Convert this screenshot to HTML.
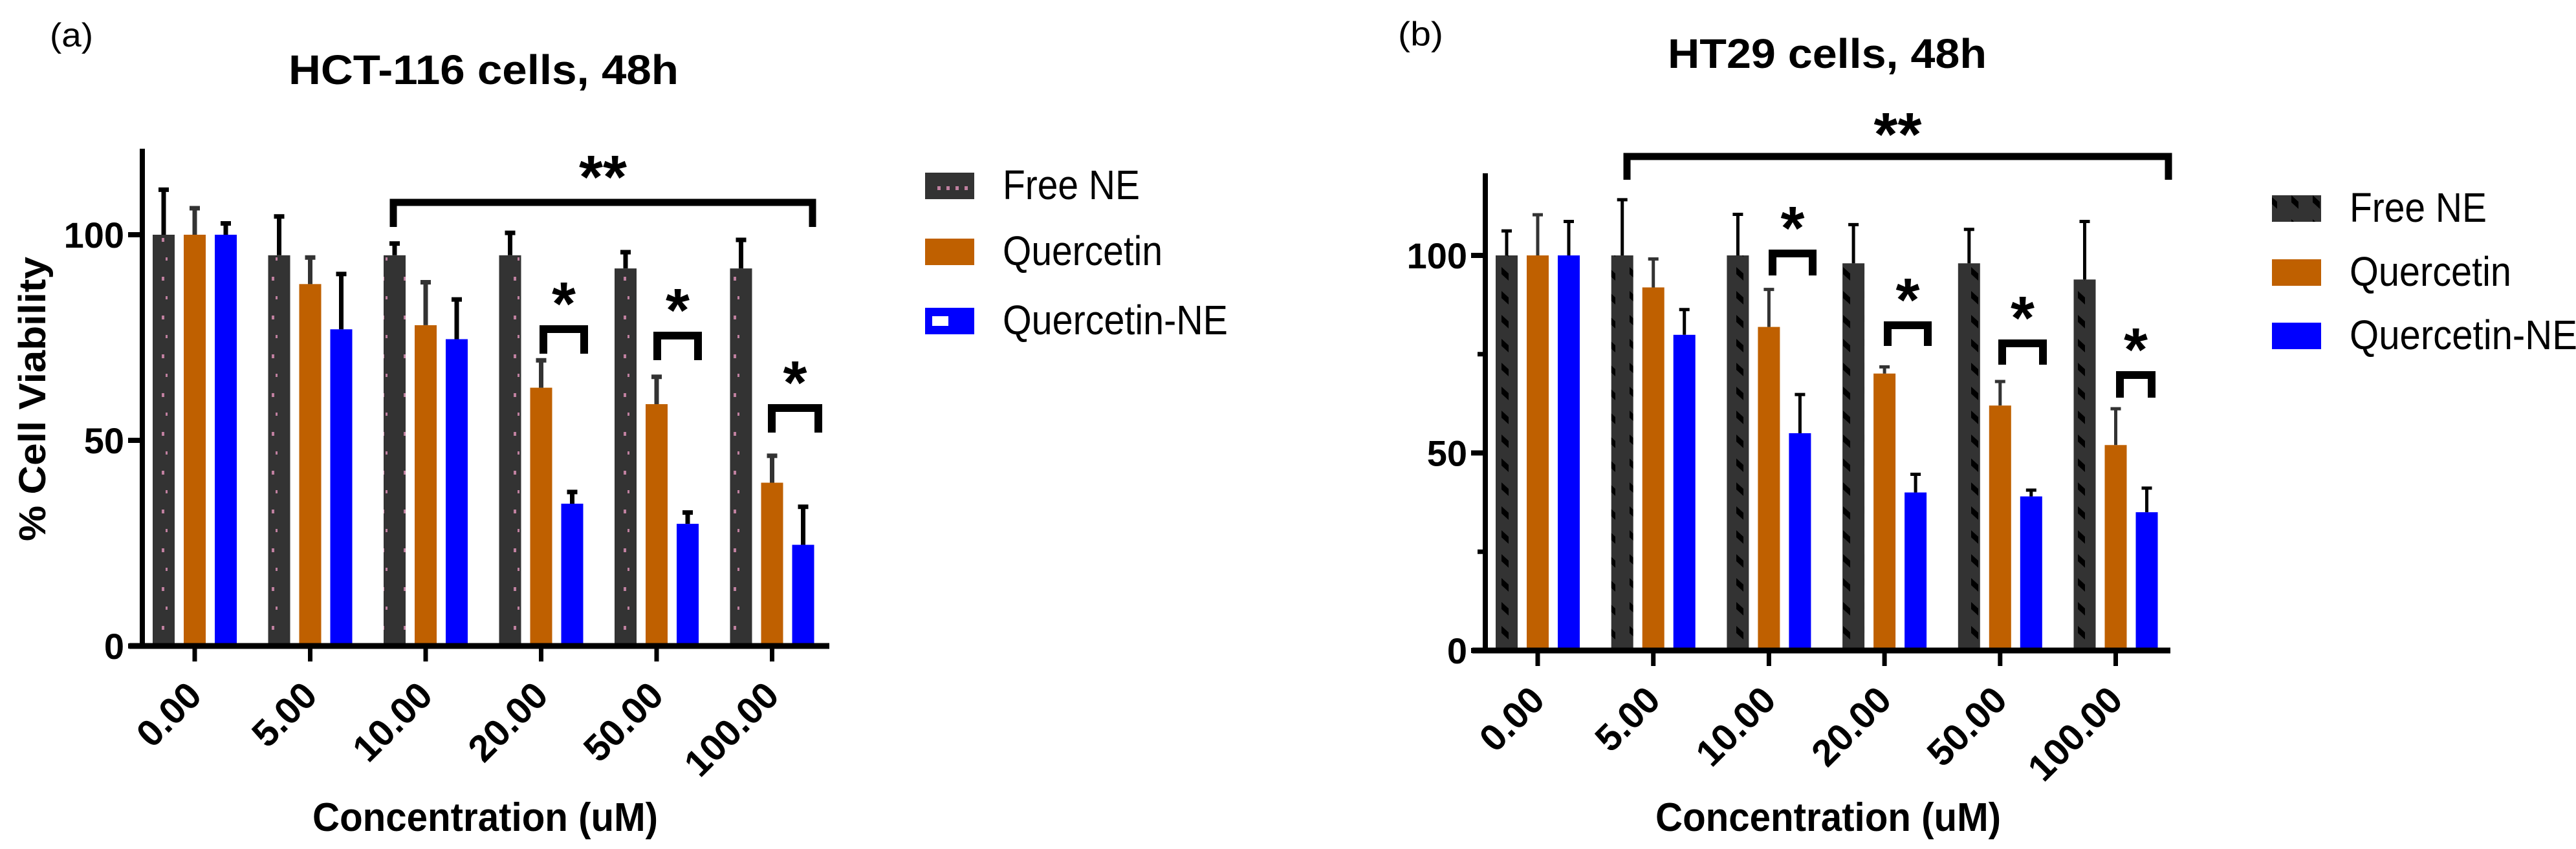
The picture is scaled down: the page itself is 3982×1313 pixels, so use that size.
<!DOCTYPE html>
<html><head><meta charset="utf-8"><style>
html,body{margin:0;padding:0;background:#fff;}
svg{display:block;font-family:"Liberation Sans",Arial,sans-serif;}
</style></head><body>
<svg id="fig" width="3982" height="1313" viewBox="0 0 3982 1313" xmlns="http://www.w3.org/2000/svg">
<defs>
<pattern id="dotsA" patternUnits="userSpaceOnUse" x="0" y="0" width="34" height="60">
<rect width="34" height="60" fill="#333333"/>
<rect x="12" y="8" width="4" height="6" fill="#c080a0"/>
<rect x="18" y="38" width="3" height="5" fill="#c080a0"/>
</pattern>
<pattern id="hatchB" patternUnits="userSpaceOnUse" x="0" y="0" width="33" height="37">
<rect width="33" height="37" fill="#333333"/>
<polygon points="11,6 22,16 22,27 11,17" fill="#000"/>
</pattern>
</defs>
<g id="panelA"></g>
<g id="panelB"></g>
</svg>
<script>
const categories = ["0.00","5.00","10.00","20.00","50.00","100.00"];
const seriesNames = ["Free NE","Quercetin","Quercetin-NE"];
const yTicks = [0,50,100];
// Panel A (HCT-116)
const aFree = [100,95,95,95,91.8,91.8];
const aFreeErr = [11.5,10,3.4,6,4.5,7.5];
const aQ = [100,88,78,62.8,58.8,39.7];
const aQErr = [7,7,11,7.2,7.2,7.1];
const aQNE = [100,77,74.6,34.6,29.7,24.6];
const aQNEErr = [3.3,14,10.2,3.4,3.3,9.8];
// Panel B (HT29)
const bFree = [100,100,100,98,98,93.9];
const bFreeErr = [6.6,14.5,10.8,10.2,9,15.1];
const bQ = [100,91.9,81.9,70.1,62,52];
const bQErr = [10.7,7.6,9.9,2.1,6.5,9.6];
const bQNE = [100,79.9,55,40,39,35];
const bQNEErr = [9,6.8,10.2,5,2,6.5];

const NS="http://www.w3.org/2000/svg";
function mk(parent,tag,attrs,text){const e=document.createElementNS(NS,tag);for(const k in attrs)e.setAttribute(k,attrs[k]);if(text!==undefined)e.textContent=text;parent.appendChild(e);return e;}

function star(g,cx,cy,label){
  const t=mk(g,'text',{x:cx,y:cy+54,'text-anchor':'middle','font-size':95,'font-weight':'bold',fill:'#000'},label);
  
  
}

function drawPanel(cfg){
  const g=document.getElementById(cfg.id);
  const y=v=>cfg.y0-(v/100)*cfg.h100;
  const x=i=>cfg.tick0+i*cfg.step;
  let t=mk(g,'text',{x:cfg.tagX,y:cfg.tagY,'font-size':52,textLength:cfg.tagW,lengthAdjust:'spacingAndGlyphs'},cfg.tag);
  
  
  t=mk(g,'text',{x:cfg.titleX,y:cfg.titleY,'font-size':64,'font-weight':'bold',textLength:cfg.titleW,lengthAdjust:'spacingAndGlyphs'},cfg.title);
  
  
  const series=[cfg.free,cfg.q,cfg.qne], errs=[cfg.freeErr,cfg.qErr,cfg.qneErr];
  const fills=[cfg.darkFill,'#bf6000','#0000ff'];
  const errCol=['#000','#333333','#000'];
  const sw2=cfg.errW/2;
  for(let s=0;s<3;s++){
    for(let i=0;i<categories.length;i++){
      const cx=x(i)+(s-1)*48, v=series[s][i], top=y(v), et=y(v+errs[s][i]);
      const r=mk(g,'rect',{x:cx-17,y:top,width:34,height:cfg.y0-top,fill:fills[s]});
      
      
      const e=mk(g,'path',{d:`M${cx},${top}V${et}M${cx-8},${et+sw2}H${cx+8}`,stroke:errCol[s],fill:'none'});
      e.setAttribute('stroke-width',cfg.errW);
      
      
    }
  }
  let a=mk(g,'line',{x1:cfg.axX,y1:cfg.axTop,x2:cfg.axX,y2:cfg.y0+4,stroke:'#000','stroke-width':8});
  
  
  a=mk(g,'line',{x1:cfg.axX-20,y1:cfg.y0,x2:cfg.xEnd,y2:cfg.y0,stroke:'#000','stroke-width':9});
  
  
  yTicks.forEach(v=>{
    const tk=mk(g,'line',{x1:cfg.axX-22,y1:y(v),x2:cfg.axX,y2:y(v),stroke:'#000','stroke-width':8});
    
    
    const lb=mk(g,'text',{x:cfg.axX-28,y:y(v)+20,'text-anchor':'end','font-size':56,'font-weight':'bold'},String(v));
    
    
  });
  if(cfg.minor){[25,75].forEach(v=>{
    const tk=mk(g,'line',{x1:cfg.axX-12,y1:y(v),x2:cfg.axX,y2:y(v),stroke:'#000','stroke-width':7});
    
    
  });}
  categories.forEach((c,i)=>{
    const tk=mk(g,'line',{x1:x(i),y1:cfg.y0,x2:x(i),y2:cfg.y0+24,stroke:'#000','stroke-width':7});
    
    
    const bx=x(i)+14, by=cfg.y0+80;
    const lb=mk(g,'text',{x:bx,y:by,'text-anchor':'end','font-size':58,'font-weight':'bold',transform:`rotate(-45 ${bx} ${by})`},c);
    
    
  });
  t=mk(g,'text',{x:cfg.xtX,y:1285,'text-anchor':'middle','font-size':62,'font-weight':'bold',textLength:534,lengthAdjust:'spacingAndGlyphs'},'Concentration (uM)');
  
  
  if(cfg.ylabel){
    t=mk(g,'text',{x:0,y:0,'text-anchor':'middle','font-size':58,'font-weight':'bold',textLength:440,lengthAdjust:'spacingAndGlyphs',transform:'translate(70 617) rotate(-90)'},'% Cell Viability');
    
    
  }
  const legFills=[cfg.legDark,'#bf6000','#0000ff'];
  seriesNames.forEach((n,k)=>{
    const ly=cfg.legY[k];
    const sw=mk(g,'rect',{x:cfg.legX,y:ly,width:76,height:41,fill:legFills[k]});
    
    
    if(k===2&&cfg.id==='panelA'){const w=mk(g,'rect',{x:cfg.legX+11,y:ly+13,width:25,height:15,fill:'#fff'});}
    if(k===0&&cfg.id==='panelA'){for(let d=0;d<4;d++){const w=mk(g,'rect',{x:cfg.legX+19+d*14,y:ly+21,width:5,height:6,fill:'#c080a0'});}}
    const lt=mk(g,'text',{x:cfg.legX+120,y:ly+41,'font-size':64,textLength:cfg.legW[k],lengthAdjust:'spacingAndGlyphs'},n);
    
    
  });
  const bb=cfg.big;
  let p=mk(g,'path',{d:`M${bb[0]+5},${bb[3]}V${bb[2]+5}H${bb[1]-5}V${bb[3]}`,fill:'none',stroke:'#000','stroke-width':11});
  
  
  star(g,(bb[0]+bb[1])/2,bb[4],'**');
  cfg.small.forEach(s=>{
    const q=mk(g,'path',{d:`M${s[0]+6},${s[3]}V${s[2]+5}H${s[1]-6}V${s[3]}`,fill:'none',stroke:'#000','stroke-width':12});
    
    
    star(g,(s[0]+s[1])/2,s[2]-56,'*');
  });
}

drawPanel({id:'panelA',tag:'(a)',tagX:77,tagY:72,tagW:67,title:'HCT-116 cells, 48h',titleX:446,titleY:130,titleW:603,
  y0:999,h100:636,tick0:301,step:178.5,axX:220,axTop:230,xEnd:1282,xtX:750,ylabel:true,minor:false,errW:7,
  free:aFree,freeErr:aFreeErr,q:aQ,qErr:aQErr,qne:aQNE,qneErr:aQNEErr,darkFill:'url(#dotsA)',legDark:'#333333',
  legX:1430,legY:[267,369,476],legW:[212,247,348],
  big:[603,1261,308,351,252],
  small:[[834,909,504,547],[1010,1085,514,557],[1187,1271,626,669]]});
drawPanel({id:'panelB',tag:'(b)',tagX:2161,tagY:70,tagW:70,title:'HT29 cells, 48h',titleX:2578,titleY:105,titleW:493,
  y0:1006,h100:611,tick0:2377,step:178.7,axX:2296,axTop:268,xEnd:3355,xtX:2826,ylabel:false,minor:true,errW:5,
  free:bFree,freeErr:bFreeErr,q:bQ,qErr:bQErr,qne:bQNE,qneErr:bQNEErr,darkFill:'url(#hatchB)',legDark:'url(#hatchB)',
  legX:3512,legY:[302,401,499],legW:[212,250,352],
  big:[2510,3357,237,278,186],
  small:[[2734,2808,387,426],[2912,2986,498,535],[3089,3164,526,564],[3271,3332,575,615]]});
</script>
</body></html>
